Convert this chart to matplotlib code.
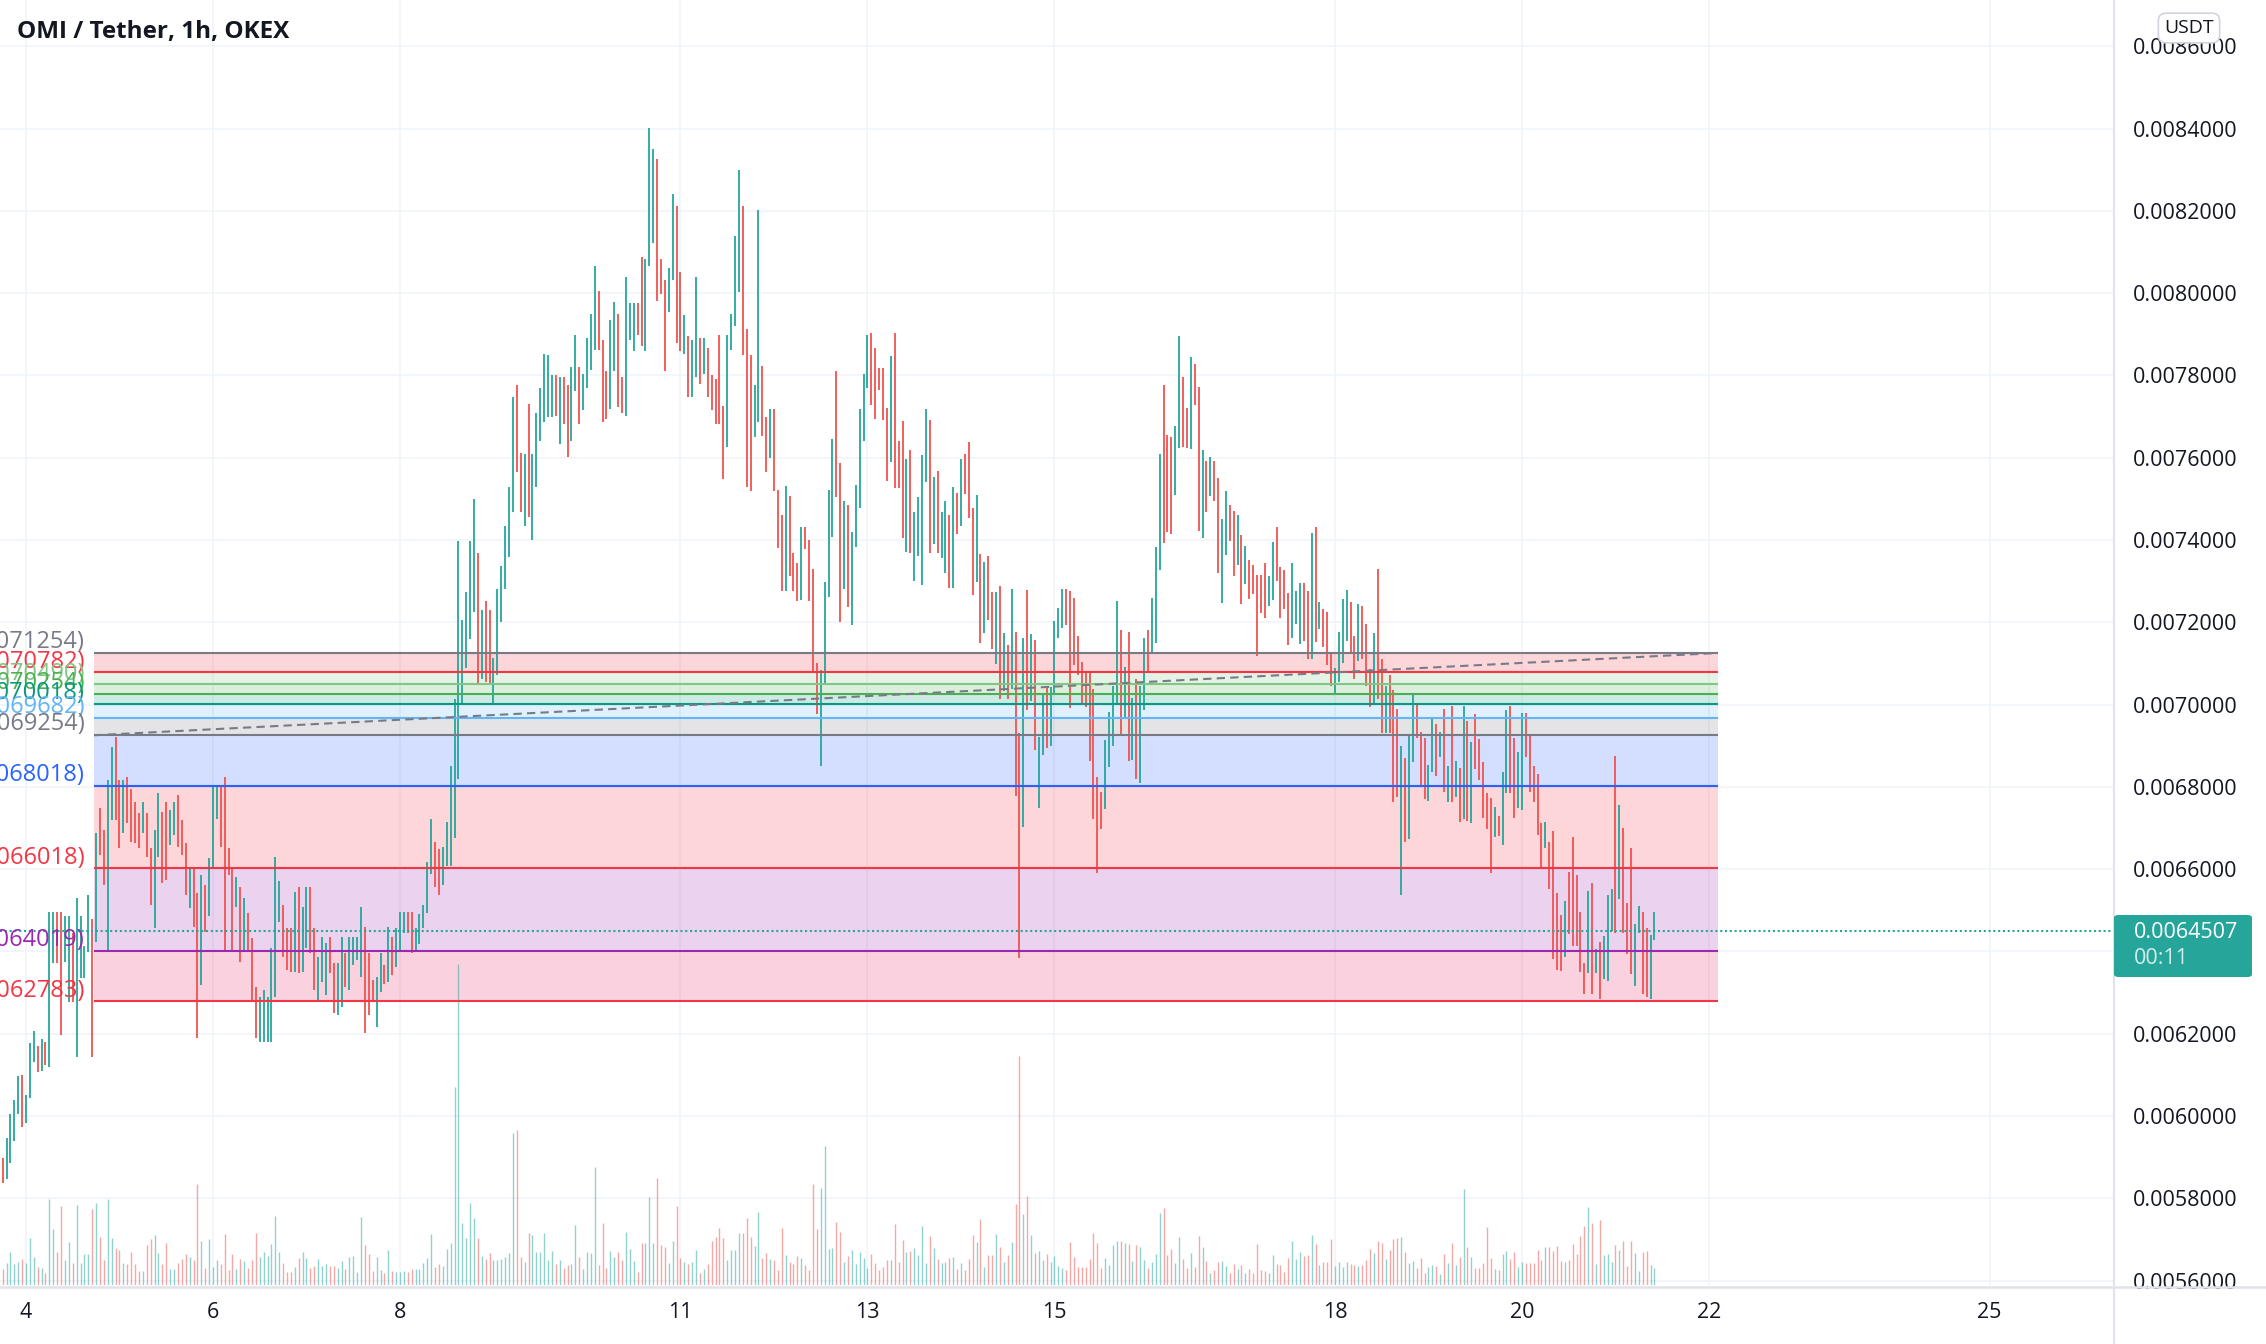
import numpy as np
import matplotlib
matplotlib.use("Agg")
import matplotlib.pyplot as plt
from matplotlib.patches import FancyBboxPatch

plt.rcParams['font.family'] = ['Open Sans', 'DejaVu Sans']

# OMI/USDT 1h candles. hour 0 = 4th 00:00, first bar is the 3rd 18:00
first_hour = -6
# highs / lows in millionths of USDT
highs = [5897, 5946, 6006, 6039, 6097, 6100, 6051, 6177, 6207, 6170, 6186, 6181,
         6497, 6497, 6497, 6497, 6485, 6485, 6444, 6529, 6485, 6414, 6537, 6480,
         6687, 6748, 6695, 6817, 6898, 6922, 6817, 6817, 6825, 6796,
         6764, 6736, 6764, 6736, 6651, 6695, 6784, 6740, 6764, 6744,
         6764, 6780, 6719, 6663, 6602, 6602, 6541, 6586, 6561, 6626,
         6800, 6800, 6800, 6825, 6651, 6606, 6582, 6557, 6529, 6493,
         6432, 6314, 6290, 6306, 6290, 6408, 6630, 6570, 6513, 6456,
         6456, 6545, 6557, 6509, 6557, 6557, 6456, 6387, 6436, 6420,
         6436, 6371, 6371, 6436, 6395, 6436, 6436, 6436, 6509, 6460,
         6395, 6330, 6339, 6395, 6367, 6460, 6436, 6456, 6497, 6497,
         6497, 6497, 6456,
         6490, 6513, 6617, 6722, 6667, 6649, 6653, 6715, 6850, 7013,
         7398, 7205, 7273, 7398, 7499, 7369, 7229, 7251, 7229, 7114,
         7280, 7337, 7434, 7528, 7748, 7777, 7611, 7608, 7731, 7608,
         7709, 7770, 7852, 7849, 7801, 7801, 7796, 7796, 7777, 7820,
         7899, 7820, 7803, 7892, 7950, 8065, 8005, 7885, 7810, 7935,
         7979, 7950, 7796, 8039, 7976, 7976, 7976, 8087, 8082, 8401,
         8350, 8326, 8082, 8033, 8062, 8241, 8211, 8051, 7947, 7895,
         7885, 8039, 7892, 7892, 7866, 7801, 7791, 7899, 7726, 7899,
         7950, 8140, 8300, 8211, 7914, 7849, 7777, 8202, 7824, 7698,
         7719, 7719, 7522, 7460, 7532, 7508, 7369, 7345, 7431, 7431,
         7399, 7330, 7100, 7085, 7297, 7522,
         7645, 7811, 7587, 7494, 7484, 7419, 7533, 7719, 7803, 7899,
         7904, 7866, 7819, 7819, 7722, 7847, 7904, 7641, 7689, 7596,
         7619, 7468, 7504, 7606, 7719, 7691, 7554, 7567, 7468, 7494,
         7460, 7530, 7515, 7596, 7608, 7639, 7478, 7510, 7366, 7347,
         7362, 7274, 7274, 7288, 7175, 7144, 7281, 7177, 6931, 7162,
         7279, 7172, 7157, 6920, 7027, 7044, 7042, 7203, 7234, 7281,
         7281, 7276, 7258, 7167, 7104, 7079, 7079, 7039, 6824, 6788,
         6913, 6982, 7045, 7252, 7182, 7091, 7177, 7016, 7062, 7045,
         7162, 7182, 7260, 7383, 7608, 7776, 7655, 7650, 7676, 7897,
         7797, 7720, 7845, 7828, 7771, 7619, 7593, 7601, 7593, 7551,
         7450, 7518, 7484, 7470, 7460,
         7412, 7386, 7351, 7339, 7315, 7315, 7345, 7313, 7394, 7432,
         7335, 7327, 7272, 7345, 7276, 7296, 7296, 7277, 7418, 7432,
         7250, 7232, 7224, 7129, 7090, 7177, 7257, 7279, 7249, 7167,
         7245, 7240, 7196, 7087, 7173, 7330, 7111, 7044, 7072, 7036,
         6989, 6899, 6869, 6924, 7029, 7001, 6934, 6918, 6853, 6967,
         6953, 6934, 6989, 6851, 6997, 6863, 6845, 6997, 6959, 6908,
         6977, 6916, 6860, 6784, 6772, 6752, 6729, 6835, 6987, 6997,
         6918, 6884, 6980, 6980, 6928, 6851, 6831, 6711, 6714, 6665,
         6693, 6543, 6489, 6523, 6594, 6677, 6586, 6497, 6373, 6547,
         6566, 6405, 6422, 6438, 6537, 6551, 6875, 6756, 6699, 6517,
         6651, 6466, 6511, 6495, 6456, 6440, 6495]
lows = [5836, 5848, 5885, 5938, 6006, 5974, 5982, 6043, 6132, 6108, 6110, 6124,
        6120, 6371, 6371, 6197, 6375, 6278, 6278, 6144, 6335, 6335, 6399, 6144,
        6424, 6634, 6561, 6403, 6719, 6719, 6651, 6687, 6711, 6667,
        6663, 6651, 6687, 6630, 6513, 6456, 6630, 6566, 6574, 6659,
        6683, 6655, 6634, 6537, 6505, 6460, 6189, 6318, 6448, 6485,
        6606, 6723, 6655, 6399, 6586, 6403, 6509, 6375, 6399, 6399,
        6282, 6189, 6181, 6181, 6181, 6181, 6290, 6472, 6387, 6355,
        6351, 6351, 6347, 6351, 6408, 6395, 6306, 6278, 6326, 6294,
        6347, 6250, 6245, 6266, 6314, 6306, 6367, 6379, 6339, 6201,
        6245, 6278, 6217, 6302, 6322, 6326, 6343, 6363, 6403, 6444,
        6444, 6395, 6403,
        6418, 6458, 6493, 6588, 6556, 6538, 6562, 6608, 6608, 6675,
        6819, 6999, 7090, 7160, 7225, 7049, 7061, 7056, 7049, 6999,
        7071, 7201, 7280, 7359, 7467, 7565, 7467, 7435, 7456, 7399,
        7528, 7640, 7686, 7698, 7698, 7701, 7633, 7683, 7601, 7640,
        7762, 7683, 7715, 7770, 7813, 7863, 7863, 7688, 7695, 7719,
        7810, 7724, 7709, 7701, 7885, 7860, 7899, 7871, 7860, 8065,
        8121, 7982, 7997, 7810, 7954, 8033, 7878, 7859, 7852, 7748,
        7748, 7796, 7780, 7803, 7748, 7715, 7683, 7681, 7549, 7626,
        7863, 7921, 8003, 7849, 7528, 7518, 7650, 7686, 7652, 7565,
        7600, 7518, 7381, 7275, 7275, 7312, 7275, 7251, 7254, 7378,
        7251, 7081, 6977, 6850, 7052, 7261,
        7408, 7504, 7200, 7281, 7236, 7193, 7382, 7478, 7641, 7769,
        7727, 7693, 7764, 7691, 7544, 7590, 7527, 7527, 7406, 7371,
        7369, 7300, 7361, 7290, 7542, 7369, 7390, 7369, 7357, 7320,
        7284, 7284, 7414, 7434, 7513, 7454, 7266, 7297, 7149, 7175,
        7206, 7134, 7099, 7014, 7032, 7014, 7037, 6778, 6383, 6703,
        6987, 7008, 6889, 6748, 6878, 6895, 6900, 7027, 7162, 7185,
        7193, 6992, 7097, 7071, 6998, 6994, 6863, 6722, 6591, 6697,
        6746, 6848, 6899, 6998, 6923, 6967, 6864, 6866, 6819, 6809,
        6987, 7081, 7122, 7149, 7328, 7392, 7419, 7414, 7510, 7624,
        7626, 7624, 7621, 7728, 7421, 7406, 7468, 7507, 7494, 7321,
        7248, 7364, 7398, 7312, 7340,
        7245, 7293, 7257, 7269, 7117, 7223, 7211, 7240, 7254, 7300,
        7211, 7232, 7145, 7163, 7196, 7147, 7155, 7111, 7111, 7151,
        7183, 7141, 7096, 7046, 7026, 7056, 7102, 7155, 7129, 7062,
        7107, 7111, 7045, 6995, 6999, 7013, 6932, 6932, 6932, 6764,
        6776, 6537, 6667, 6673, 6861, 6918, 6805, 6770, 6766, 6835,
        6827, 6873, 6788, 6764, 6764, 6775, 6715, 6721, 6718, 6711,
        6843, 6817, 6724, 6697, 6590, 6679, 6681, 6659, 6784, 6786,
        6724, 6748, 6744, 6873, 6788, 6762, 6683, 6604, 6651, 6551,
        6381, 6355, 6353, 6386, 6442, 6413, 6413, 6351, 6297, 6347,
        6297, 6348, 6284, 6333, 6329, 6450, 6444, 6527, 6446, 6393,
        6344, 6316, 6444, 6296, 6290, 6284, 6428]
# 1 = green candle, 0 = red candle
up = [0, 1, 1, 1, 1, 0, 1, 1, 1, 0, 1, 0, 1, 1, 0, 0, 1, 1, 0, 1, 1, 1, 1, 0,
      1, 0, 0, 1, 1, 0, 0, 1, 0, 0,
      0, 0, 1, 0, 0, 1, 1, 0, 0, 1,
      1, 0, 0, 0, 1, 0, 0, 1, 0, 1,
      1, 1, 0, 0, 0, 0, 1, 0, 1, 0,
      0, 0, 1, 1, 1, 1, 1, 1, 0, 0,
      0, 1, 0, 1, 1, 0, 0, 1, 1, 1,
      0, 0, 1, 1, 0, 1, 1, 1, 1, 0,
      0, 0, 1, 1, 0, 1, 0, 1, 1, 1,
      0, 0, 1,
      1, 1, 1, 1, 0, 0, 1, 1, 1, 1,
      1, 1, 1, 1, 1, 0, 1, 0, 0, 1,
      1, 1, 1, 1, 1, 0, 0, 1, 0, 1,
      1, 1, 1, 1, 1, 0, 1, 0, 0, 1,
      1, 0, 1, 1, 1, 1, 0, 0, 0, 1,
      1, 0, 0, 1, 1, 1, 0, 0, 1, 1,
      1, 0, 0, 0, 1, 1, 0, 0, 1, 0,
      1, 1, 0, 1, 0, 0, 0, 0, 0, 1,
      1, 1, 1, 0, 0, 0, 1, 1, 0, 0,
      1, 0, 0, 0, 1, 0, 0, 0, 1, 0,
      0, 0, 0, 1, 1, 1,
      1, 0, 0, 1, 0, 1, 1, 1, 1, 1,
      0, 0, 0, 0, 0, 1, 0, 0, 0, 1,
      0, 1, 1, 1, 1, 0, 1, 0, 1, 1,
      0, 1, 0, 1, 0, 0, 0, 1, 0, 1,
      0, 0, 1, 0, 1, 0, 1, 0, 0, 1,
      0, 1, 0, 1, 1, 0, 1, 1, 1, 1,
      0, 0, 0, 0, 0, 0, 0, 0, 0, 0,
      1, 1, 1, 1, 0, 1, 0, 1, 0, 1,
      1, 0, 1, 1, 1, 0, 0, 0, 1, 1,
      0, 0, 1, 0, 0, 1, 0, 1, 0, 0,
      1, 1, 0, 0, 1,
      0, 1, 0, 0, 0, 0, 0, 1, 1, 0,
      0, 0, 0, 1, 1, 1, 0, 0, 1, 0,
      1, 0, 0, 0, 1, 1, 1, 1, 0, 0,
      1, 0, 0, 0, 1, 0, 0, 1, 0, 0,
      0, 1, 0, 1, 1, 0, 0, 0, 1, 1,
      0, 1, 0, 1, 0, 1, 0, 1, 0, 1,
      0, 0, 0, 0, 0, 1, 0, 1, 1, 0,
      0, 1, 1, 0, 0, 0, 0, 0, 1, 0,
      0, 0, 0, 1, 0, 0, 0, 0, 0, 1,
      0, 1, 0, 1, 1, 1, 0, 1, 0, 0,
      0, 1, 1, 0, 0, 1, 1]
# volume per candle, arbitrary units
volume = [47, 65, 100, 62, 70, 78, 65, 140, 83, 55,
          50, 35, 257, 167, 100, 237, 75, 130, 67, 239,
          65, 92, 92, 227, 245, 143, 75, 257, 140, 110,
          105, 65, 62, 100, 62, 42, 42, 120, 137, 150,
          95, 62, 125, 48, 48, 65, 78, 92, 85, 75,
          302, 133, 52, 137, 55, 75, 62, 152, 45, 92,
          48, 78, 72, 52, 75, 155, 85, 98, 87, 122,
          207, 100, 67, 40, 40, 55, 80, 98, 80, 52,
          58, 78, 57, 62, 57, 58, 52, 73, 47, 83,
          87, 40, 203, 120, 92, 42, 83, 45, 35, 104,
          42, 40, 38, 42, 40, 48, 48, 48, 67, 80,
          152, 55, 62, 58, 107, 125, 593, 962, 185, 140,
          245, 200, 140, 87, 77, 95, 75, 75, 78, 85,
          95, 455, 465, 85, 68, 155, 150, 100, 100, 155,
          75, 103, 62, 75, 50, 60, 63, 180, 85, 47,
          98, 95, 355, 60, 185, 50, 103, 85, 100, 75,
          160, 107, 73, 40, 125, 127, 265, 125, 320, 120,
          113, 65, 132, 237, 80, 70, 62, 70, 105, 35,
          47, 62, 133, 145, 170, 142, 75, 105, 105, 155,
          157, 202, 145, 118, 220, 80, 95, 78, 75, 45,
          172, 90, 70, 62, 88, 82, 60, 45, 302, 167,
          292, 418, 107, 112, 190,
          158, 70, 87, 105, 63, 98, 80, 50, 92, 65,
          45, 53, 75, 75, 183, 68, 135, 100, 102, 110,
          90, 177, 65, 147, 110, 77, 67, 70, 80, 83,
          47, 65, 45, 78, 150, 128, 198, 53, 90, 90,
          153, 113, 68, 90, 128, 243, 687, 212, 267, 150,
          97, 102, 75, 92, 68, 87, 57, 52, 45, 128,
          85, 55, 55, 55, 77, 155, 125, 50, 82, 60,
          120, 133, 132, 125, 122, 72, 120, 115, 74, 50,
          68, 93, 215, 230, 90, 107, 65, 143, 77, 50,
          95, 53, 147, 113, 73, 35, 45, 70, 73, 57,
          35, 63, 47, 60, 35, 48, 35, 123, 45, 42,
          35, 90, 63, 60, 38, 80, 133, 77, 98, 88,
          90, 150, 123, 60, 70, 70, 137, 57, 70, 53,
          70, 62, 60, 57, 60, 75, 107, 95, 132, 125,
          78, 105, 137, 142, 143, 98, 65, 72, 50, 80,
          35, 55, 60, 58, 32, 92, 65, 125, 60, 85,
          287, 113, 83, 52, 50, 65, 173, 80, 47, 45,
          92, 102, 77, 100, 53, 70, 67, 65, 67, 105,
          75, 113, 113, 102, 117, 73, 70, 75, 123, 93,
          147, 177, 233, 185, 63, 195, 90, 92, 70, 120,
          105, 132, 57, 132, 95, 42, 98, 102, 60, 50]

day_labels = [4, 6, 8, 11, 13, 15, 18, 20, 22, 25]
price_ticks = [0.0056, 0.0058, 0.0060, 0.0062, 0.0064, 0.0066, 0.0068, 0.0070,
               0.0072, 0.0074, 0.0076, 0.0078, 0.0080, 0.0082, 0.0084, 0.0086]

# fib retracement drawing
fib_ratios = ['0', '0.236', '0.382', '0.5', '0.618', '0.786', '1',
              '1.618', '2.618', '3.618', '4.236']
fib_levels = [0.0071254, 0.0070782, 0.0070490, 0.0070254, 0.0070018, 0.0069682,
              0.0069254, 0.0068018, 0.0066018, 0.0064019, 0.0062783]
fib_t0, fib_t1 = 17.5, 434.3

last_price = 0.0064507
countdown = "00:11"

GREEN = '#26a69a'
RED = '#ef5350'
TXT = '#131722'
fib_colors = ['#787b86', '#f23645', '#81c784', '#4caf50', '#089981', '#64b5f6',
              '#787b86', '#2962ff', '#f23645', '#9c27b0', '#f23645']
fib_fills = ['#f23645', '#81c784', '#4caf50', '#089981', '#64b5f6', '#787b86',
             '#2962ff', '#f23645', '#9c27b0', '#e91e63']

W, H = 2266, 1344
fig = plt.figure(figsize=(W / 100, H / 100), dpi=100)
ax = fig.add_axes([0, 59 / H, 2113 / W, 1285 / H])

hours = first_hour + np.arange(len(highs))
hi = np.array(highs) * 1e-6
lo = np.array(lows) * 1e-6
cols = np.where(np.array(up) == 1, GREEN, RED)

# volume, drawn in axes-fraction height at the bottom of the pane
ax.vlines(hours, 0, np.array(volume) / 3855, transform=ax.get_xaxis_transform(),
          colors=cols, alpha=0.5, lw=1.0, zorder=2)

# fib fills + levels
for i in range(len(fib_fills)):
    ax.fill_between([fib_t0, fib_t1], fib_levels[i + 1], fib_levels[i],
                    color=fib_fills[i], alpha=0.2, lw=0, zorder=1)

ax.vlines(hours, lo, hi, colors=cols, lw=1.3, zorder=3)

ax.hlines(fib_levels, fib_t0, fib_t1, colors=fib_colors, lw=1.5, zorder=4)
ax.plot([fib_t0, fib_t1], [fib_levels[6], fib_levels[0]], color='#787b86',
        lw=1.5, ls=(0, (4, 2.5)), zorder=4)
for r, p, c in zip(fib_ratios, fib_levels, fib_colors):
    ax.annotate(f"{r}({p:.7f})", xy=(fib_t0, p), xytext=(-6.5, 3.5),
                textcoords='offset points', ha='right', va='baseline',
                color=c, fontsize=17, annotation_clip=False, zorder=5)

# last price line
ax.axhline(last_price, color=GREEN, lw=1.5, ls=(0, (1, 1.3)), zorder=4)

ax.set_xlim(-6.67, 535.7)
ax.set_ylim(0.0055892, 0.0087126)
ax.set_xticks([(d - 4) * 24 for d in day_labels])
ax.set_xticklabels([str(d) for d in day_labels])
ax.set_yticks(price_ticks)
# the 0.0064 label sits under the last-price tag
ax.set_yticklabels(["" if abs(v - 0.0064) < 1e-9 else f"{v:.7f}" for v in price_ticks])
ax.yaxis.tick_right()
ax.tick_params(axis='y', length=0, pad=14, labelsize=15.5, labelcolor=TXT)
ax.tick_params(axis='x', length=0, pad=12, labelsize=15.5, labelcolor=TXT)
ax.grid(color='#f0f3fa', lw=1.2, zorder=0)
ax.set_axisbelow(True)
for s in ax.spines.values():
    s.set_visible(False)

# pane borders
fig.add_artist(plt.Line2D([2113.5 / W, 2113.5 / W], [0, 1], color='#e0e3eb', lw=1.5))
fig.add_artist(plt.Line2D([0, 1], [1 - 1286.5 / H, 1 - 1286.5 / H], color='#e0e3eb', lw=1.8))

fig.text(17 / W, 1 - 32 / H, "OMI / Tether, 1h, OKEX", fontsize=17.5,
         fontweight='bold', color=TXT, va='center', ha='left')

# currency tag
fig.text(2189 / W, 1 - 28 / H, "USDT", fontsize=14, color=TXT, ha='center', va='center',
         bbox=dict(boxstyle='round,pad=0.3,rounding_size=0.4', fc='white', ec='#d1d4dc', lw=1.2),
         zorder=10)

# last price tag
tag = FancyBboxPatch((2114 / W, 1 - 977 / H), 138 / W, 62 / H,
                     boxstyle='round,pad=0,rounding_size=0.002', transform=fig.transFigure,
                     fc=GREEN, ec='none', zorder=10)
fig.add_artist(tag)
fig.text(2134 / W, 1 - 932 / H, f"{last_price:.7f}", fontsize=15.5, color='white',
         va='center', ha='left', zorder=11)
fig.text(2134 / W, 1 - 959 / H, countdown, fontsize=15.5, color='white', alpha=0.8,
         va='center', ha='left', zorder=11)

fig.savefig("out.png", dpi=100, facecolor='white')
